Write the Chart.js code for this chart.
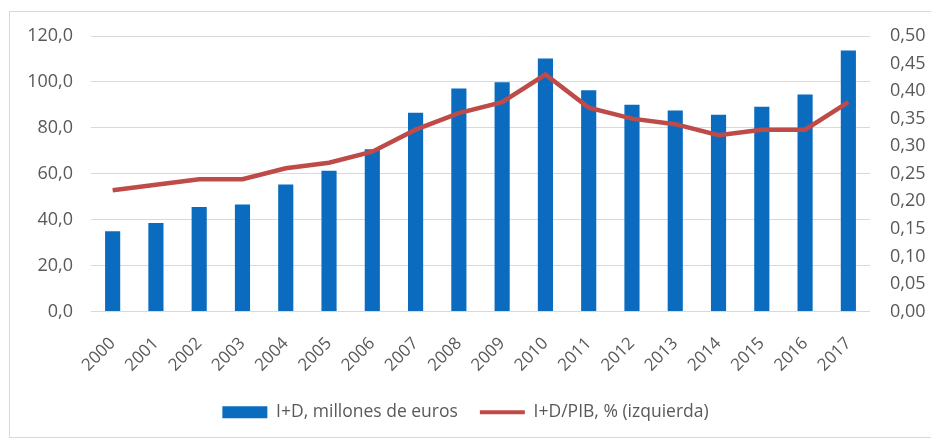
<!DOCTYPE html>
<html>
<head>
<meta charset="utf-8">
<script src="https://cdn.jsdelivr.net/npm/chart.js@4"></script>
<style>
    body { margin: 0; background: #fff; }
    #wrap { position: relative; width: 931px; height: 439px; overflow: hidden; }
    #marco { position: absolute; left: 9px; top: 11px; width: 940px; height: 425px; border: 1px solid #d9d9d9; }
    #grafico { position: absolute; left: 0; top: 0; }
</style>
</head>
<body>
<div id="wrap">
    <div id="marco"></div>
    <canvas id="grafico" width="931" height="439"></canvas>
</div>
<script>
const anios = ['2000', '2001', '2002', '2003', '2004', '2005', '2006', '2007', '2008',
    '2009', '2010', '2011', '2012', '2013', '2014', '2015', '2016', '2017'];
const gastoID = [35.0, 38.5, 45.5, 46.6, 55.3, 61.3, 70.7, 86.6, 97.1,
    99.9, 110.2, 96.4, 90.1, 87.5, 85.7, 89.2, 94.5, 113.7];
const idPib = [0.22, 0.23, 0.24, 0.24, 0.26, 0.27, 0.29, 0.33, 0.36,
    0.38, 0.43, 0.37, 0.35, 0.34, 0.32, 0.33, 0.33, 0.38];
const ticksIzq = [0, 20, 40, 60, 80, 100, 120];
const ticksDer = [0, 0.05, 0.10, 0.15, 0.20, 0.25, 0.30, 0.35, 0.40, 0.45, 0.50];

const gris = '#595959';
const fuente = 'Open Sans';

const ctx = document.getElementById('grafico').getContext('2d');
new Chart(ctx, {
    type: 'bar',
    data: {
        labels: anios,
        datasets: [{
            label: 'I+D, millones de euros',
            data: gastoID,
            backgroundColor: '#0b6cbf',
            categoryPercentage: 1,
            barPercentage: 0.35,
            yAxisID: 'y',
            order: 1
        }, {
            type: 'line',
            label: 'I+D/PIB, % (izquierda)',
            data: idPib,
            borderColor: '#be4b48',
            backgroundColor: '#be4b48',
            borderWidth: 4.5,
            pointRadius: 0,
            tension: 0,
            yAxisID: 'y1',
            order: 0
        }]
    },
    options: {
        responsive: false,
        animation: false,
        layout: { padding: { top: 36, bottom: 8, left: 0, right: 0 } },
        plugins: {
            tooltip: { enabled: false },
            legend: {
                position: 'bottom',
                labels: {
                    color: gris,
                    font: { family: fuente, size: 17.5 },
                    usePointStyle: true,
                    pointStyleWidth: 45,
                    boxHeight: 12,
                    padding: 22,
                    generateLabels: function(chart) {
                        return chart.data.datasets.map(function(ds, i) {
                            const esLinea = ds.type === 'line';
                            return {
                                text: ds.label,
                                fillStyle: ds.backgroundColor,
                                strokeStyle: esLinea ? ds.borderColor : ds.backgroundColor,
                                lineWidth: esLinea ? 4 : 0,
                                pointStyle: esLinea ? 'line' : 'rect',
                                fontColor: gris,
                                datasetIndex: i,
                                hidden: false
                            };
                        });
                    }
                }
            }
        },
        scales: {
            x: {
                grid: { display: false },
                border: { display: false },
                ticks: {
                    color: gris,
                    font: { family: fuente, size: 17 },
                    minRotation: 45,
                    maxRotation: 45,
                    padding: 14
                },
                afterFit: function(scale) { scale.height = 70; }
            },
            y: {
                position: 'left',
                min: 0,
                max: 120,
                afterBuildTicks: function(scale) {
                    scale.ticks = ticksIzq.map(v => ({ value: v }));
                },
                grid: { color: '#d9d9d9', drawTicks: false },
                border: { display: false },
                ticks: {
                    color: gris,
                    font: { family: fuente, size: 18 },
                    padding: 18,
                    callback: v => Number(v).toFixed(1).replace('.', ',')
                },
                afterFit: function(scale) { scale.width = 91; }
            },
            y1: {
                position: 'right',
                min: 0,
                max: 0.5,
                afterBuildTicks: function(scale) {
                    scale.ticks = ticksDer.map(v => ({ value: v }));
                },
                grid: { display: false, drawTicks: false },
                border: { display: false },
                ticks: {
                    color: gris,
                    font: { family: fuente, size: 18 },
                    padding: 20,
                    callback: v => Number(v).toFixed(2).replace('.', ',')
                },
                afterFit: function(scale) { scale.width = 61; }
            }
        }
    }
});
</script>
</body>
</html>
